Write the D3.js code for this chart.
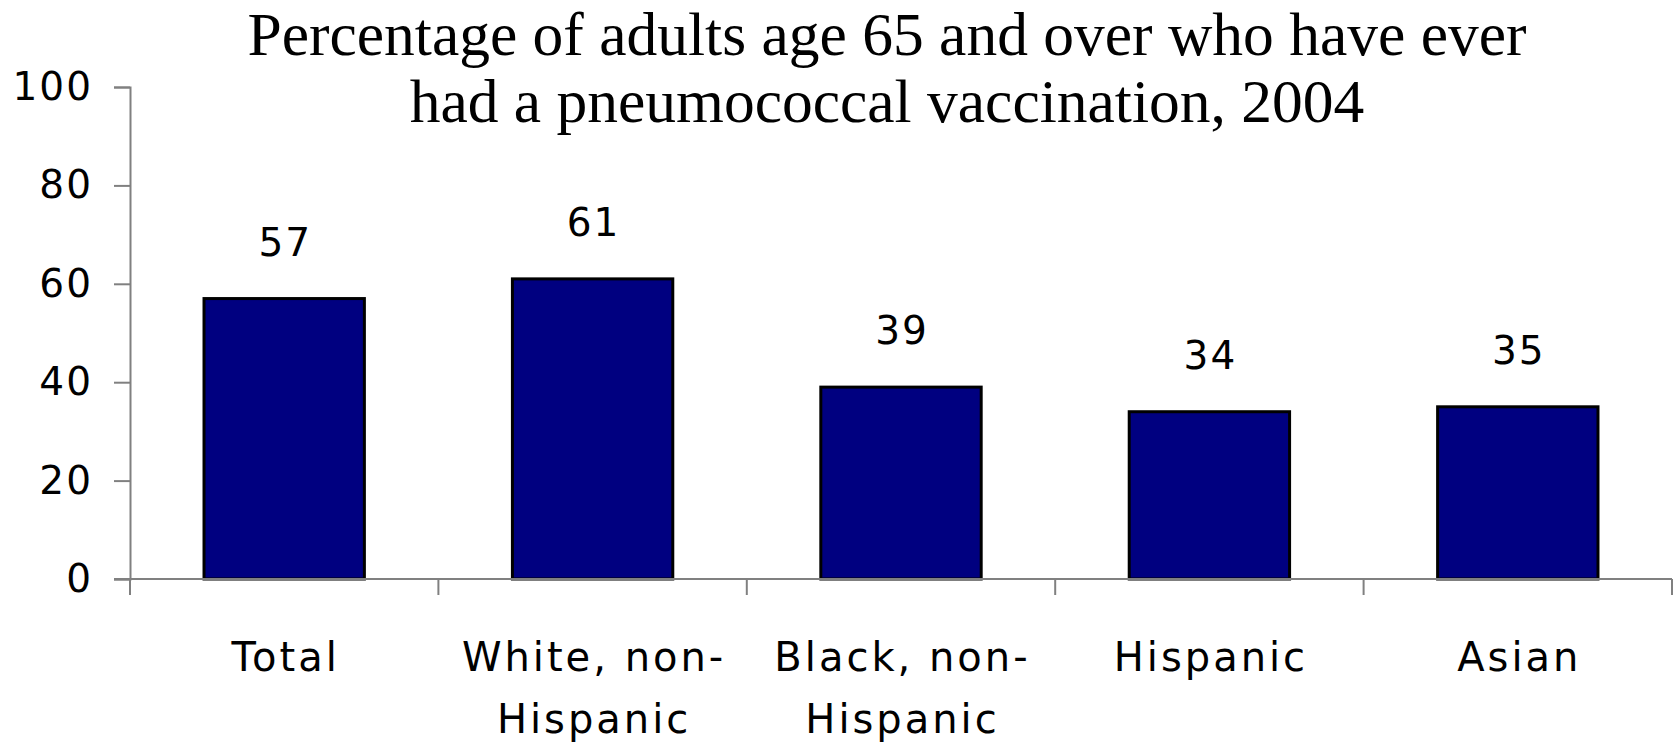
<!DOCTYPE html>
<html>
<head>
<meta charset="utf-8">
<script src="https://cdn.jsdelivr.net/npm/d3@7"></script>
<style>
  html, body { margin: 0; padding: 0; background: #fff; }
  svg { display: block; }
</style>
</head>
<body>
<svg id="chart" width="1674" height="745"></svg>
<script>
// Pneumococcal vaccination among adults 65+, 2004 (percent)
const categories = ["Total", "White, non-Hispanic", "Black, non-Hispanic", "Hispanic", "Asian"];
const categoryLines = [["Total"], ["White, non-", "Hispanic"], ["Black, non-", "Hispanic"], ["Hispanic"], ["Asian"]];
const values = [57, 61, 39, 34, 35];
const yTicks = [0, 20, 40, 60, 80, 100];
const titleLines = ["Percentage of adults age 65 and over who have ever", "had a pneumococcal vaccination, 2004"];

const W = 1674, H = 745;
const margin = { left: 130, right: 2, top: 87, bottom: 166 };
const svg = d3.select("#chart");

const x = d3.scaleBand()
  .domain(categories)
  .range([margin.left, W - margin.right])
  .paddingInner(0)
  .paddingOuter(0);

const y = d3.scaleLinear()
  .domain([0, 100])
  .range([H - margin.bottom, margin.top]);

const sansFont = "'DejaVu Sans', Verdana, sans-serif";
const axisColor = "#808080";

// Bars
const barW = x.bandwidth() * 0.52;
svg.append("g")
  .selectAll("rect")
  .data(values)
  .join("rect")
  .attr("x", (d, i) => x(categories[i]) + (x.bandwidth() - barW) / 2)
  .attr("y", d => y(d))
  .attr("width", barW)
  .attr("height", d => y(0) - y(d))
  .attr("fill", "#000080")
  .attr("stroke", "#000")
  .attr("stroke-width", 3);

// Value labels above bars
svg.append("g")
  .selectAll("text")
  .data(values)
  .join("text")
  .attr("x", (d, i) => x(categories[i]) + x.bandwidth() / 2 + 1)
  .attr("y", d => y(d) - 43)
  .attr("text-anchor", "middle")
  .attr("font-family", sansFont)
  .attr("font-size", 39)
  .attr("letter-spacing", 2)
  .attr("fill", "#000")
  .text(d => d);

// Y axis
const yAxis = svg.append("g")
  .attr("transform", `translate(${margin.left},0)`)
  .call(d3.axisLeft(y).tickValues(yTicks).tickSize(16).tickPadding(21));
yAxis.select(".domain").attr("stroke", axisColor).attr("stroke-width", 2);
yAxis.selectAll(".tick line").attr("stroke", axisColor).attr("stroke-width", 2);
yAxis.selectAll(".tick text")
  .attr("font-family", sansFont)
  .attr("font-size", 39)
  .attr("letter-spacing", 2)
  .attr("fill", "#000");

// X axis with category boundary ticks
const xAxisG = svg.append("g").attr("transform", `translate(0,${y(0)})`);
xAxisG.append("line")
  .attr("x1", margin.left - 16)
  .attr("x2", W - margin.right)
  .attr("stroke", axisColor)
  .attr("stroke-width", 2);
const bounds = categories.map(c => x(c)).concat([x.range()[1]]);
xAxisG.selectAll("line.sep")
  .data(bounds)
  .join("line")
  .attr("class", "sep")
  .attr("x1", d => d).attr("x2", d => d)
  .attr("y1", 0).attr("y2", 16)
  .attr("stroke", axisColor)
  .attr("stroke-width", 2);

// Category labels
const catG = xAxisG.selectAll("text.cat")
  .data(categoryLines)
  .join("text")
  .attr("class", "cat")
  .attr("text-anchor", "middle")
  .attr("font-family", sansFont)
  .attr("font-size", 40)
  .attr("letter-spacing", 3)
  .attr("fill", "#000");
catG.selectAll("tspan")
  .data((d, i) => d.map(t => ({ t, i })))
  .join("tspan")
  .attr("x", d => x(categories[d.i]) + x.bandwidth() / 2 + 1.5)
  .attr("y", (d, j) => 92 + j * 62)
  .text(d => d.t);

// Title
const title = svg.append("text")
  .attr("text-anchor", "middle")
  .attr("font-family", "'Liberation Serif', 'Times New Roman', serif")
  .attr("font-size", 61.5)
  .attr("fill", "#000");
title.selectAll("tspan")
  .data(titleLines)
  .join("tspan")
  .attr("x", 887)
  .attr("y", (d, i) => 55 + i * 67)
  .text(d => d);
</script>
</body>
</html>
